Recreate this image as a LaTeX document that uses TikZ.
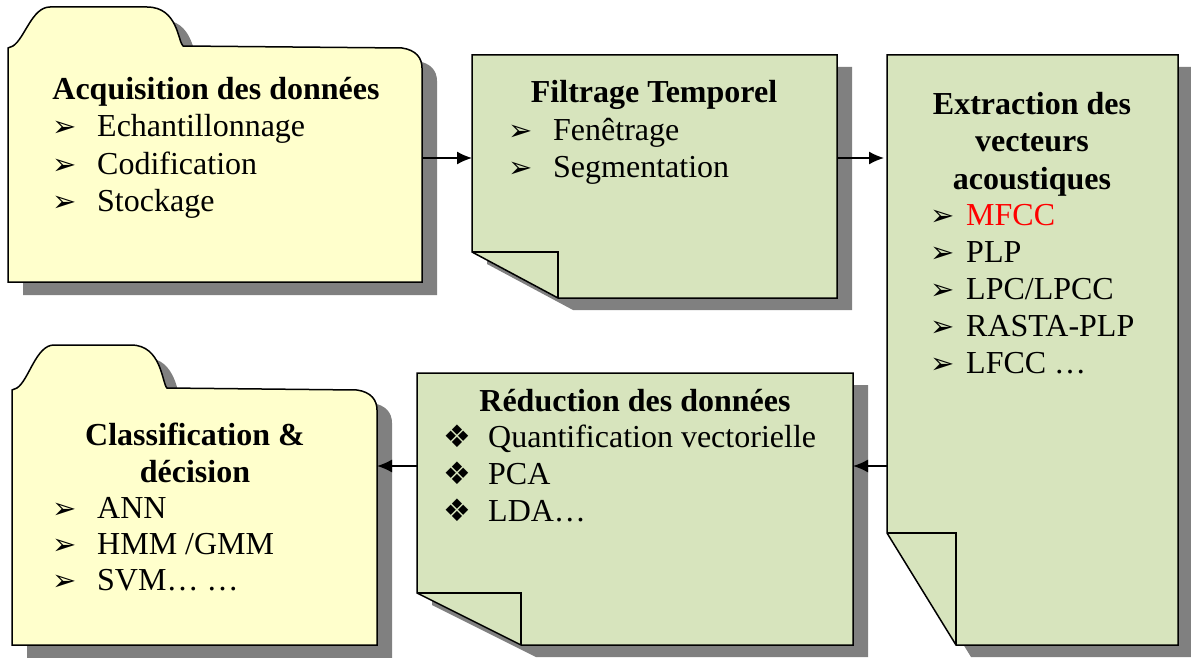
\documentclass[tikz,border=0pt]{standalone}
\usepackage{fontspec}
\setmainfont{Liberation Serif}
\newfontfamily\dingfont{DejaVu Sans}
\usetikzlibrary{arrows.meta}

\definecolor{folderyellow}{HTML}{FFFFCC}
\definecolor{notegreen}{HTML}{D7E4BD}

\newcommand{\pnt}[1][45pt]{\makebox[#1][l]{\dingfont\fontsize{29}{29}\selectfont ➢}}
\newcommand{\dia}{\makebox[45pt][l]{\dingfont\fontsize{31}{31}\selectfont ❖}}

% folder with a tab: node, tab width, tab height
\newcommand{\folder}[3]{%
  \foreach \st/\dx/\dy in {boxshadow/15/-13, folderbox/0/0}
    \filldraw[\st, transform canvas={xshift=\dx pt, yshift=\dy pt}]
      (#1.south west) -- (#1.north west) -- ([shift={(5,-2)}]#1.north west)
      .. controls ([shift={(17,-10)}]#1.north west) and ([shift={(24,-#3)}]#1.north west) .. ([shift={(42,-#3)}]#1.north west)
      -- ([shift={(#2-36,-#3)}]#1.north west)
      .. controls ([shift={(#2-5,-#3)}]#1.north west) and ([shift={(#2-5,-6)}]#1.north west) .. ([shift={(#2,-2)}]#1.north west)
      -- ([xshift=-20pt]#1.north east)
      .. controls ([shift={(-6,2)}]#1.north east) and ([shift={(0,10)}]#1.north east) .. ([shift={(0,20)}]#1.north east)
      -- (#1.south east) -- cycle;
}
% sheet with a folded corner: node, fold width, fold height
\newcommand{\notepage}[3]{%
  \foreach \st/\dx/\dy in {boxshadow/15/-12, notebox/0/0}
    \filldraw[\st, transform canvas={xshift=\dx pt, yshift=\dy pt}]
      (#1.north west) -- (#1.north east) -- (#1.south east)
      -- ([xshift=#2pt]#1.south west) -- ([yshift=#3pt]#1.south west) -- cycle;
  \draw[notebox, fill=none] ([yshift=#3pt]#1.south west) -- ([shift={(#2,-#3)}]#1.south west) -- ([xshift=#2pt]#1.south west);
}

\tikzset{
  boxbody/.style={inner sep=0pt, outer sep=0pt},
  boxshadow/.style={fill=gray, draw=none},
  folderbox/.style={fill=folderyellow, draw=black, line width=1.5pt},
  notebox/.style={fill=notegreen, draw=black, line width=1.5pt},
  boxtitle/.style={anchor=base, inner sep=0pt, font=\fontsize{32}{37}\selectfont\bfseries},
  item/.style={anchor=base west, inner sep=0pt, font=\fontsize{32}{37}\selectfont},
  arr/.style={-{Latex[length=15pt, width=13pt]}, line width=1.5pt},
}

\begin{document}
\begin{tikzpicture}[x=1pt, y=-1pt]
\useasboundingbox (0,0) rectangle (1191,658);

\node[boxbody, minimum width=414pt, minimum height=234pt] (acq) at (215,165) {};
\node[boxbody, minimum width=365pt, minimum height=243pt] (filt) at (654.5,176.5) {};
\node[boxbody, minimum width=291pt, minimum height=590pt] (extr) at (1032.5,350) {};
\node[boxbody, minimum width=436pt, minimum height=272pt] (redu) at (635,509) {};
\node[boxbody, minimum width=365pt, minimum height=255pt] (clas) at (194.5,517.5) {};

\folder{acq}{175}{41}
\notepage{filt}{86}{46}
\notepage{extr}{69}{112}
\notepage{redu}{104}{52}
\folder{clas}{155}{45}

% acquisition
\node[boxtitle] (acqT) at (216,100) {Acquisition des données};
\foreach \t [count=\i] in {Echantillonnage, Codification, Stockage}
  \node[item] (acq\i) at (52,100+37*\i) {\pnt\t};

% filtrage
\node[boxtitle] (filtT) at (654,103) {Filtrage Temporel};
\foreach \t [count=\i] in {Fenêtrage, Segmentation}
  \node[item] (filt\i) at (508,103+37*\i) {\pnt\t};

% extraction
\foreach \t [count=\i] in {Extraction des, vecteurs, acoustiques}
  \node[boxtitle] (extrT\i) at (1032,78+37*\i) {\t};
\foreach \t [count=\i] in {{\color{red}MFCC}, PLP, LPC/LPCC, RASTA-PLP, {LFCC …}}
  \node[item] (extr\i) at (930,188+37*\i) {\pnt[36pt]\t};

% reduction
\node[boxtitle] (reduT) at (635,411) {Réduction des données};
\foreach \t [count=\i] in {Quantification vectorielle, PCA, {LDA…}}
  \node[item] (redu\i) at (443,410+37*\i) {\dia\t};

% classification
\foreach \t [count=\i] in {Classification \&, décision}
  \node[boxtitle] (clasT\i) at (195,408+37*\i) {\t};
\foreach \t [count=\i] in {ANN, HMM /GMM, {SVM\dots\ \dots}}
  \node[item] (clas\i) at (52,482+36*\i) {\pnt\t};

\coordinate (row1) at (0,158);
\coordinate (row2) at (0,466);
\draw[arr] (acq.east |- row1) -- (filt.west |- row1);
\draw[arr, shorten >=3pt] (filt.east |- row1) -- (extr.west |- row1);
\draw[arr] (extr.west |- row2) -- (redu.east |- row2);
\draw[arr] (redu.west |- row2) -- (clas.east |- row2);
\end{tikzpicture}
\end{document}
